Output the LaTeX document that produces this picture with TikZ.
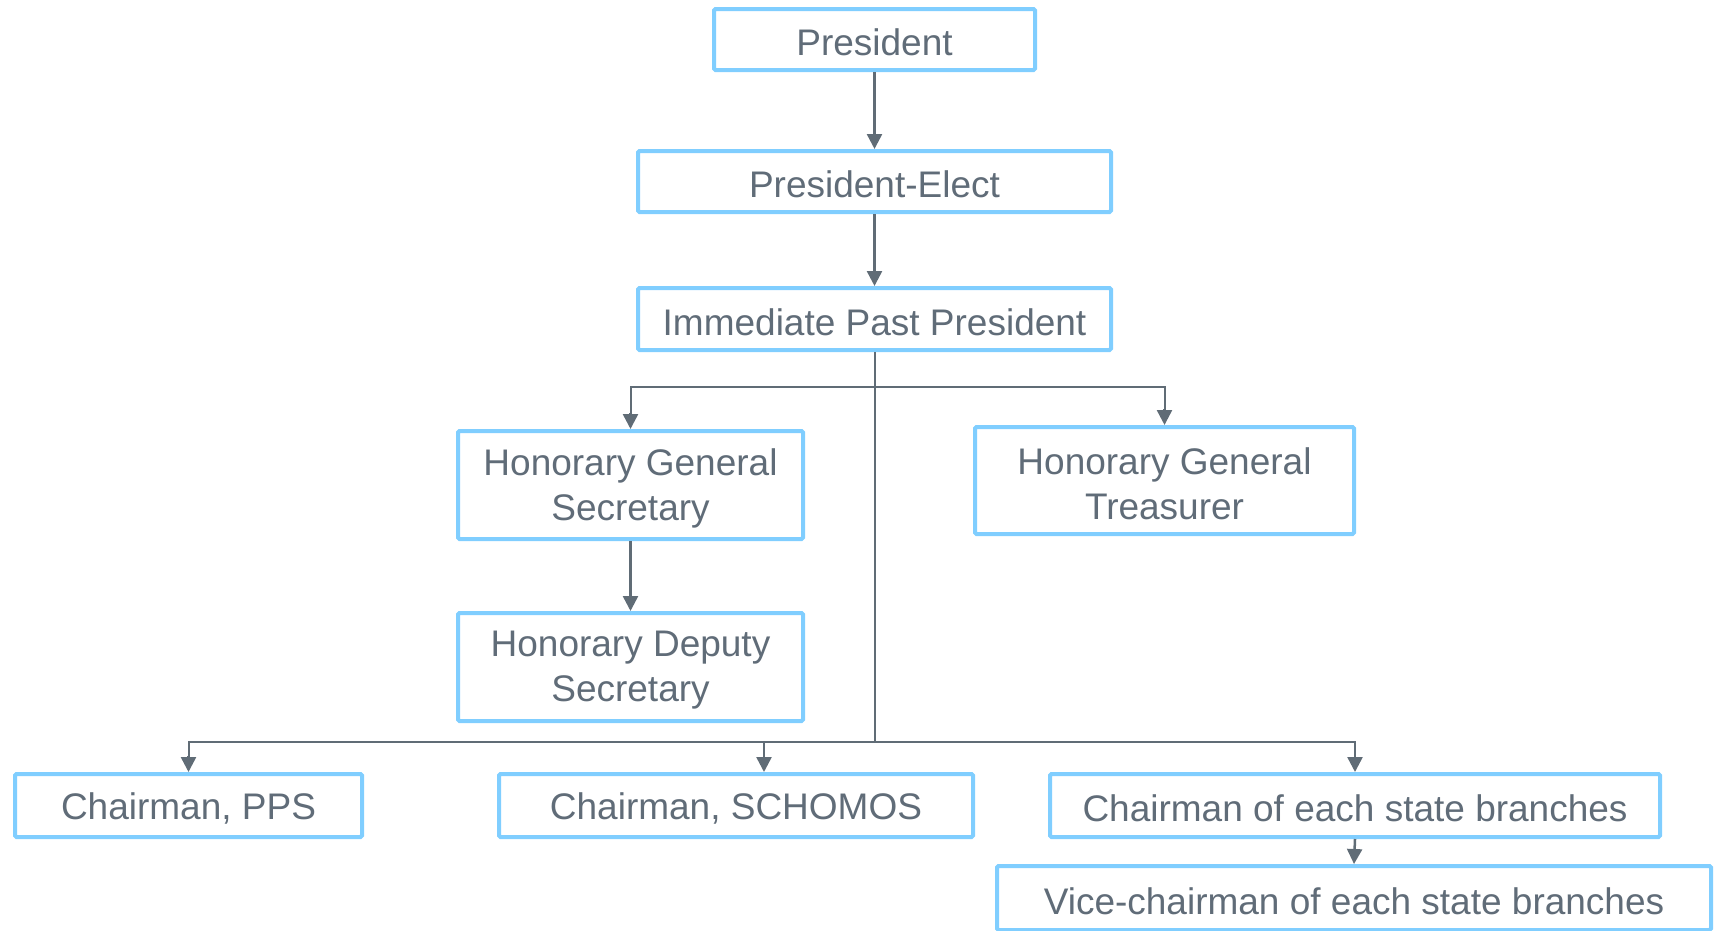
\documentclass[tikz,border=0pt]{standalone}
\usepackage{fontspec}
\setmainfont{Liberation Sans}
\usetikzlibrary{arrows.meta}
\definecolor{boxblue}{RGB}{128,206,255}
\definecolor{txtgray}{RGB}{96,108,120}
\definecolor{lngray}{RGB}{96,108,118}
\begin{document}
\begin{tikzpicture}[x=1pt,y=-1pt,
  orgbox/.style={draw=boxblue,line width=4pt,rounded corners=1.5pt,fill=white,inner sep=0pt,
    label={[boxtext]center:#1}},
  boxtext/.style={text=txtgray,align=center,inner sep=0pt,yshift=-3pt,
    font=\fontsize{37}{45}\selectfont},
  link/.style={draw=lngray,line width=2pt},
  arr/.style={draw=lngray,line width=2.5pt,-{Triangle[width=15pt,length=15pt]}}]
\useasboundingbox (0,0) rectangle (1718,930);
\node[orgbox={President},minimum width=321,minimum height=61] (pres) at (874.5,39.5) {};
\node[orgbox={President-Elect},minimum width=473,minimum height=61] (pe) at (874.5,181.5) {};
\node[orgbox={Immediate Past President},minimum width=473,minimum height=62] (ipp) at (874.5,319) {};
\node[orgbox={Honorary General\\Secretary},minimum width=345,minimum height=108] (hgs) at (630.5,485) {};
\node[orgbox={Honorary General\\Treasurer},minimum width=379,minimum height=107] (hgt) at (1164.5,480.5) {};
\node[orgbox={Honorary Deputy\\Secretary},minimum width=345,minimum height=108] (hds) at (630.5,667) {};
\node[orgbox={Chairman, PPS},minimum width=347,minimum height=63] (pps) at (188.5,805.5) {};
\node[orgbox={Chairman, SCHOMOS},minimum width=474,minimum height=63] (sch) at (736,805.5) {};
\node[orgbox={Chairman of each state branches},minimum width=610,minimum height=63] (state) at (1355,805.5) {};
\node[orgbox={Vice-chairman of each state branches},minimum width=714,minimum height=64] (vice) at (1354,898) {};
\coordinate (j1) at (874.5,387);
\coordinate (j2) at (874.5,742);
\coordinate (schin) at (764,772);
\draw[arr] (pres.south) -- (pe.north);
\draw[arr] (pe.south) -- (ipp.north);
\draw[link] (ipp.south) -- (j2);
\draw[link] (j1) -| ([yshift=14]hgs.north);
\draw[link] (j1) -| ([yshift=14]hgt.north);
\draw[arr] ([yshift=16]hgs.north) -- (hgs.north);
\draw[arr] ([yshift=16]hgt.north) -- (hgt.north);
\draw[arr] (hgs.south) -- (hds.north);
\draw[link] (j2) -| ([yshift=14]pps.north);
\draw[link] (j2) -| ([yshift=14]schin);
\draw[link] (j2) -| ([yshift=14]state.north);
\draw[arr] ([yshift=16]pps.north) -- (pps.north);
\draw[arr] ([yshift=16]schin) -- (schin);
\draw[arr] ([yshift=16]state.north) -- (state.north);
\draw[arr] (state.south) -- (vice.north);
\end{tikzpicture}
\end{document}
